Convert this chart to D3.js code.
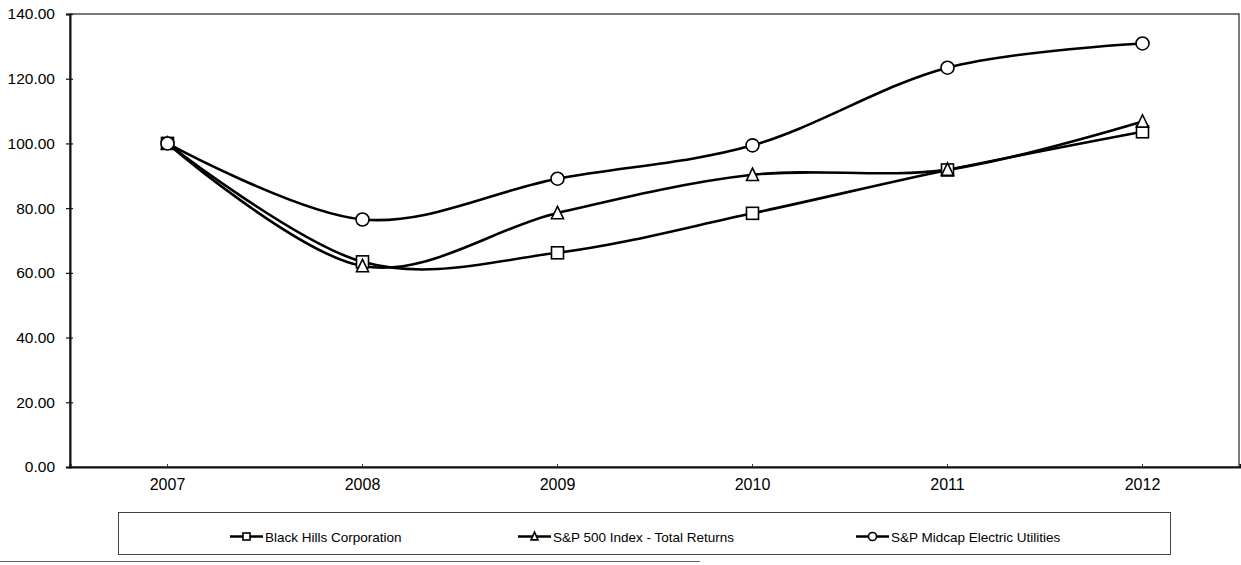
<!DOCTYPE html>
<html>
<head>
<meta charset="utf-8">
<script src="https://cdn.jsdelivr.net/npm/d3@7"></script>
<style>
  html, body { margin: 0; padding: 0; background: #fff; }
  svg { display: block; font-family: "Liberation Sans", Arial, sans-serif; }
</style>
</head>
<body>
<svg id="chart" width="1241" height="565"></svg>
<script>
// Five-year cumulative total return, indexed to 100 in 2007
const years = ["2007", "2008", "2009", "2010", "2011", "2012"];
const blackHills = [100, 63.4, 66.2, 78.4, 91.8, 103.6];
const sp500 = [100, 62.1, 78.5, 90.3, 91.9, 106.8];
const midcapUtilities = [100, 76.5, 89.1, 99.4, 123.4, 130.9];
const yTicks = [0, 20, 40, 60, 80, 100, 120, 140];

const seriesList = [
  { name: "Black Hills Corporation", values: blackHills, marker: "square" },
  { name: "S&P 500 Index - Total Returns", values: sp500, marker: "triangle" },
  { name: "S&P Midcap Electric Utilities", values: midcapUtilities, marker: "circle" }
];

const svg = d3.select("#chart");
const plot = { left: 70, top: 14, right: 1239, bottom: 467 };

const x = d3.scaleBand().domain(years).range([plot.left, plot.right + 1]);
const y = d3.scaleLinear().domain([0, 140]).range([plot.bottom, plot.top]);
const cx = d => x(d) + x.bandwidth() / 2;

// plot area frame
svg.append("rect")
  .attr("x", plot.left).attr("y", plot.top)
  .attr("width", plot.right - plot.left).attr("height", plot.bottom - plot.top)
  .attr("fill", "none").attr("stroke", "#222").attr("stroke-width", 1.2);

// y axis with ticks crossing the axis line
const yAxis = svg.append("g")
  .attr("transform", `translate(${plot.left},0)`)
  .call(d3.axisLeft(y).tickValues(yTicks).tickFormat(d3.format(".2f")).tickSize(4).tickPadding(11));
yAxis.select(".domain").attr("stroke", "#111").attr("stroke-width", 2);
yAxis.selectAll(".tick line").clone().attr("x2", 3);
yAxis.selectAll(".tick line").attr("stroke", "#111").attr("stroke-width", 1.2);
yAxis.selectAll("text").attr("font-size", 15.5).attr("fill", "#000")
  .attr("font-family", "'Liberation Sans', Arial, sans-serif");

// x axis
const xAxis = svg.append("g")
  .attr("transform", `translate(0,${plot.bottom})`)
  .call(d3.axisBottom(x).tickSize(-3).tickPadding(12));
xAxis.select(".domain").attr("stroke", "#111").attr("stroke-width", 2);
xAxis.selectAll(".tick line").attr("stroke", "#333");
xAxis.selectAll("text").attr("font-size", 16).attr("fill", "#000")
  .attr("font-family", "'Liberation Sans', Arial, sans-serif");

// smoothed lines
const line = d3.line()
  .x((d, i) => cx(years[i]))
  .y(d => y(d))
  .curve(d3.curveCatmullRom.alpha(0));

svg.append("g").selectAll("path")
  .data(seriesList)
  .join("path")
  .attr("d", s => line(s.values))
  .attr("fill", "none")
  .attr("stroke", "#000")
  .attr("stroke-width", 2.6);

function drawMarker(g, type, px, py, size) {
  const common = sel => sel.attr("fill", "#fff").attr("stroke", "#000").attr("stroke-width", 1.6);
  if (type === "square") {
    g.append("rect").attr("x", px - size / 2).attr("y", py - size / 2)
      .attr("width", size).attr("height", size).call(common);
  } else if (type === "triangle") {
    const h = size * 0.95;
    g.append("path")
      .attr("d", `M${px},${py - h / 2 - 1}L${px + size / 2},${py + h / 2}L${px - size / 2},${py + h / 2}Z`)
      .call(common);
  } else {
    g.append("circle").attr("cx", px).attr("cy", py).attr("r", size / 2 + 0.5).call(common);
  }
}

const markers = svg.append("g");
seriesList.forEach(s => {
  s.values.forEach((v, i) => drawMarker(markers, s.marker, cx(years[i]), y(v), 12));
});

// legend
const legend = svg.append("g");
legend.append("rect")
  .attr("x", 118.5).attr("y", 512.5).attr("width", 1052).attr("height", 42)
  .attr("fill", "none").attr("stroke", "#444").attr("stroke-width", 1);

const legendX = [230, 518, 856];
seriesList.forEach((s, i) => {
  const gx = legendX[i], gy = 536.5;
  legend.append("line").attr("x1", gx).attr("x2", gx + 33).attr("y1", gy).attr("y2", gy)
    .attr("stroke", "#000").attr("stroke-width", 2.6);
  drawMarker(legend, s.marker, gx + 16.5, gy, 7);
  legend.append("text").attr("x", gx + 35).attr("y", gy + 5)
    .attr("font-size", 13.5).attr("fill", "#000").text(s.name);
});

// page edge rule under the chart
svg.append("line").attr("x1", 0).attr("x2", 700).attr("y1", 561.5).attr("y2", 561.5)
  .attr("stroke", "#666").attr("stroke-width", 1);
</script>
</body>
</html>
